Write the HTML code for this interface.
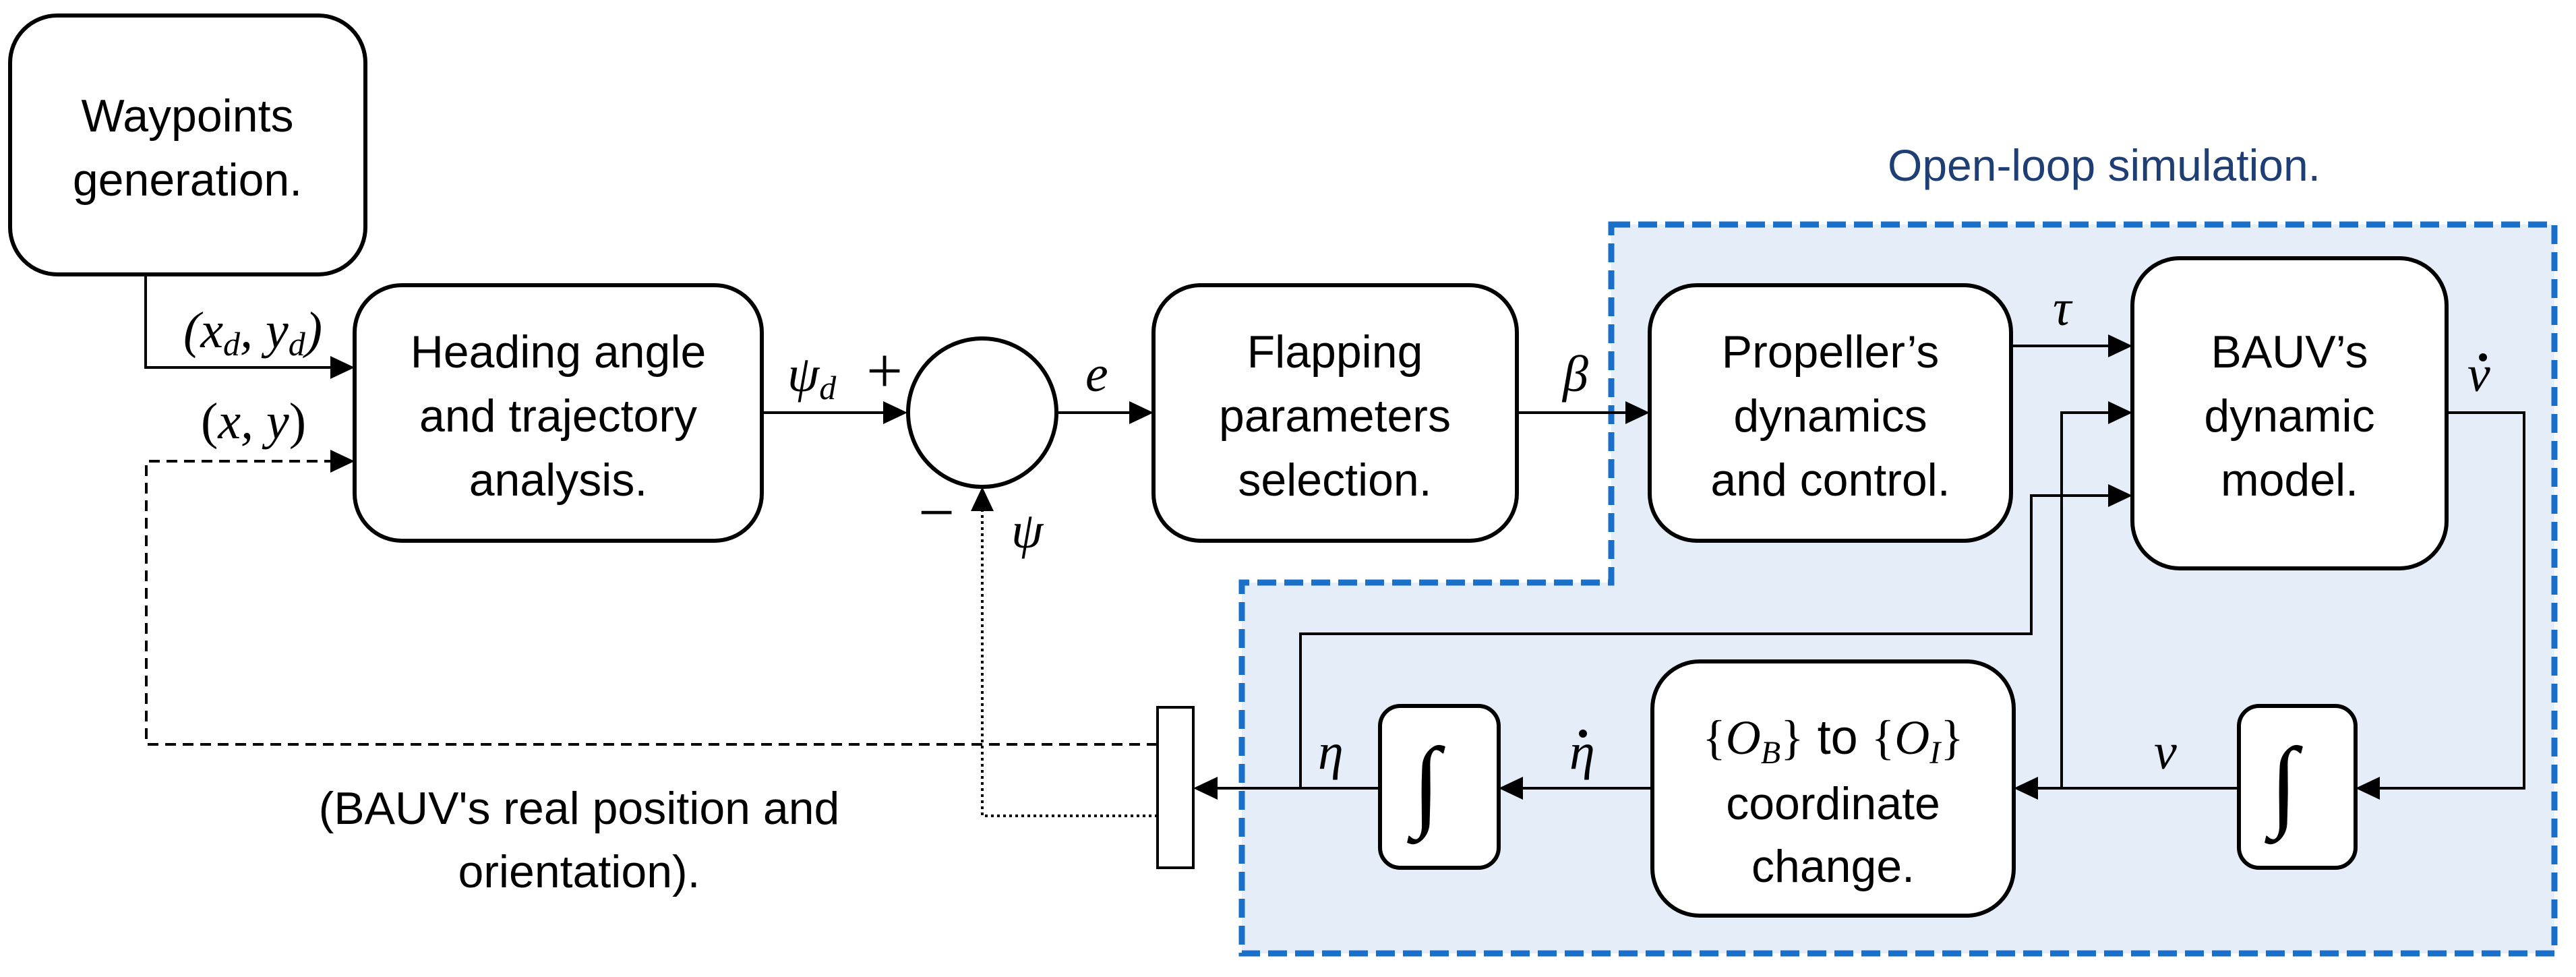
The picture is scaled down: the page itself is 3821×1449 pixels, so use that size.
<!DOCTYPE html>
<html><head><meta charset="utf-8"><style>
html,body{margin:0;padding:0;background:#fff;}
svg{display:block;}
.t{font-family:"Liberation Sans",sans-serif;font-size:68px;fill:#000;text-anchor:middle;}
.m{font-family:"Liberation Serif",serif;font-style:italic;font-size:76px;fill:#000;}
</style></head><body>
<svg width="3821" height="1449" viewBox="0 0 3821 1449" xmlns="http://www.w3.org/2000/svg">
<!-- blue region -->
<path d="M2390 333 L3789 333 L3789 1414 L1842 1414 L1842 864 L2390 864 Z" fill="#e5edf8" stroke="#1a6fc9" stroke-width="9" stroke-dasharray="28 12"/>
<text x="3121" y="268" font-family="Liberation Sans,sans-serif" font-size="66" fill="#1f3f74" text-anchor="middle">Open-loop simulation.</text>

<g fill="#fff" stroke="#000" stroke-width="6">
<rect x="15" y="23" width="527" height="384" rx="70"/>
<rect x="526" y="423" width="604" height="379" rx="70"/>
<rect x="1711" y="423" width="539" height="379" rx="70"/>
<rect x="2447" y="423" width="536" height="379" rx="70"/>
<rect x="3163" y="383" width="466" height="460" rx="70"/>
<rect x="2451" y="981" width="536" height="377" rx="70"/>
<rect x="2047" y="1047" width="176" height="240" rx="30"/>
<rect x="3321" y="1047" width="173" height="240" rx="30"/>
<circle cx="1457" cy="612" r="110"/>
<rect x="1717" y="1049" width="53" height="238" stroke-width="4"/>
</g>

<g fill="none" stroke="#000" stroke-width="4">
<path d="M216 407 V545 H490"/>
<path d="M1130 612 H1312"/>
<path d="M1567 612 H1676"/>
<path d="M2250 612 H2412"/>
<path d="M2983 513 H3128"/>
<path d="M3058 1169 V612 H3128"/>
<path d="M1929 1169 V940 H3013 V735 H3128"/>
<path d="M3629 612 H3744 V1169 H3530"/>
<path d="M3321 1169 H3022"/>
<path d="M2451 1169 H2258"/>
<path d="M2047 1169 H1805"/>
<path d="M1717 1104 H217 V684 H490" stroke-dasharray="16 10"/>
<path d="M1717 1210 H1457 V757" stroke-dasharray="4 5"/>
</g>
<g fill="#000">
<polygon points="526,545 490,528 490,562"/>
<polygon points="526,684 490,667 490,701"/>
<polygon points="1346,612 1310,595 1310,629"/>
<polygon points="1711,612 1675,595 1675,629"/>
<polygon points="2447,612 2411,595 2411,629"/>
<polygon points="3163,513 3127,496 3127,530"/>
<polygon points="3163,612 3127,595 3127,629"/>
<polygon points="3163,735 3127,718 3127,752"/>
<polygon points="3494,1169 3530,1152 3530,1186"/>
<polygon points="2987,1169 3023,1152 3023,1186"/>
<polygon points="2223,1169 2259,1152 2259,1186"/>
<polygon points="1770,1169 1806,1152 1806,1186"/>
<polygon points="1457,722 1440,758 1474,758"/>
<circle cx="3683" cy="530" r="6"/>
<circle cx="2348" cy="1088" r="6"/>
</g>

<g class="t">
<text x="278" y="195">Waypoints</text>
<text x="278" y="290">generation.</text>
<text x="828" y="545">Heading angle</text>
<text x="828" y="640">and trajectory</text>
<text x="828" y="735">analysis.</text>
<text x="1980" y="545">Flapping</text>
<text x="1980" y="640">parameters</text>
<text x="1980" y="735">selection.</text>
<text x="2715" y="545">Propeller’s</text>
<text x="2715" y="640">dynamics</text>
<text x="2715" y="735">and control.</text>
<text x="3396" y="545">BAUV’s</text>
<text x="3396" y="640">dynamic</text>
<text x="3396" y="735">model.</text>
<text x="2719" y="1215">coordinate</text>
<text x="2719" y="1308">change.</text>
<text x="859" y="1222">(BAUV's real position and</text>
<text x="859" y="1316">orientation).</text>
</g>
<text x="2719" y="1118" font-family="Liberation Serif,serif" font-size="72" text-anchor="middle"><tspan>{</tspan><tspan font-style="italic">O</tspan><tspan font-style="italic" font-size="48" dy="14">B</tspan><tspan dy="-14">}</tspan><tspan font-family="Liberation Sans,sans-serif"> to  </tspan><tspan>{</tspan><tspan font-style="italic">O</tspan><tspan font-style="italic" font-size="48" dy="14">I</tspan><tspan dy="-14">}</tspan></text>

<g class="m">
<text x="272" y="515">(<tspan>x</tspan><tspan font-size="50" dy="12">d</tspan><tspan dy="-12">, y</tspan><tspan font-size="50" dy="12">d</tspan><tspan dy="-12">)</tspan></text>
<text x="298" y="650" font-style="normal">(<tspan font-style="italic">x, y</tspan>)</text>
<text x="1168" y="580">ψ<tspan font-size="50" dy="12">d</tspan></text>
<text x="1285" y="582" font-style="normal" font-size="96">+</text>
<text x="1362" y="792" font-style="normal" font-size="96">−</text>
<text x="1500" y="812">ψ</text>
<text x="1610" y="580">e</text>
<text x="2318" y="580">β</text>
<text x="3045" y="482">τ</text>
<text x="3660" y="580">v</text>
<text x="3195" y="1140">v</text>
<text x="2328" y="1140">η</text>
<text x="1955" y="1140">η</text>
<text x="2095" y="1212" font-size="150">∫</text>
<text x="3367" y="1212" font-size="150">∫</text>
</g>
</svg>
</body></html>
